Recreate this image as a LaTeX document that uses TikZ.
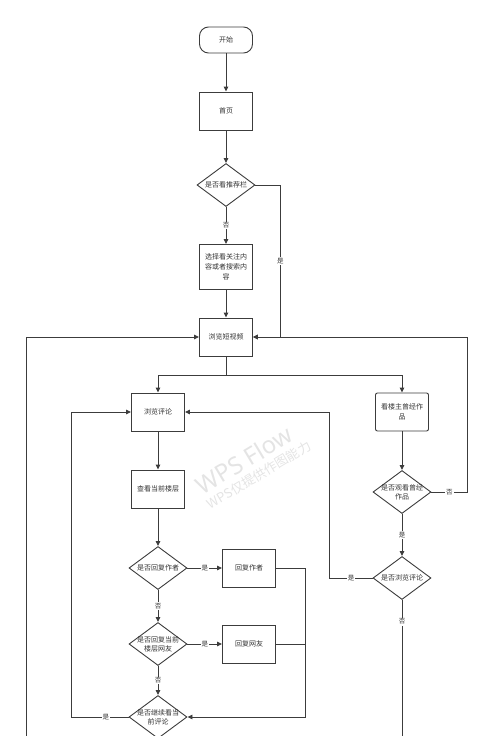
\documentclass[tikz,border=0pt]{standalone}
\usepackage{fontspec}
\newfontfamily\cjk{Noto Sans CJK SC}
\newfontfamily\wmfont{Noto Sans}
\usetikzlibrary{positioning,arrows.meta,shapes.geometric}
\definecolor{lineGray}{HTML}{3C3C3C}
\definecolor{textGray}{HTML}{333333}
\definecolor{markGray}{HTML}{E4E4E4}
\tikzset{
  box/.style={draw=lineGray,line width=0.9pt,align=center,inner sep=2pt,
    minimum width=53pt,minimum height=38pt,text=textGray,
    font=\cjk\fontsize{7}{10}\selectfont},
  term/.style={box,rounded corners=9pt,minimum height=26pt},
  dtext/.style={align=center,inner sep=0pt,text=textGray,
    font=\cjk\fontsize{7}{9}\selectfont},
  decide/.style={draw=lineGray,line width=0.9pt,diamond,inner sep=0pt,
    minimum width=58pt,minimum height=43pt,label={[dtext]center:#1}},
  arr/.style={-{Triangle[length=5pt,width=4.5pt]},draw=lineGray,line width=0.9pt},
  wire/.style={draw=lineGray,line width=0.9pt},
  lbl/.style={fill=white,inner sep=1pt,text=textGray,font=\cjk\fontsize{6.5}{7}\selectfont}
}
\begin{document}
\begin{tikzpicture}[x=1pt,y=-1pt]
\useasboundingbox (0,0) rectangle (500,736);
% watermark
\node[rotate=31,text=markGray,font=\wmfont\bfseries\fontsize{24}{24}\selectfont] (wm1) at (244,460) {WPS Flow};
\node[rotate=31,text=markGray,font=\cjk\fontsize{13}{13}\selectfont] (wm2) at (259,475) {WPS仅提供作图能力};
% main column
\node[term] (start) at (226,40) {开始};
\node[box] (home) at (226,111) {首页};
\node[decide={是否看推荐栏}] (dRec) at (226,185) {};
\node[box,minimum height=45pt] (follow) at (226,267) {选择看关注内\\容或者搜索内\\容};
\node[box] (video) at (226,337) {浏览短视频};
% left branch
\node[box] (comment) at (158,412) {浏览评论};
\node[box] (floor) at (158,489) {查看当前楼层};
\node[decide={是否回复作者}] (dAuth) at (158,568) {};
\node[box] (rAuth) at (249,568) {回复作者};
\node[decide={是否回复当前\\楼层网友}] (dFriend) at (158,644) {};
\node[box] (rFriend) at (249,644) {回复网友};
\node[decide={是否继续看当\\前评论}] (dMore) at (158,717) {};
% right branch
\node[box,rounded corners=2pt] (works) at (402,412) {看楼主曾经作\\品};
\node[decide={是否观看曾经\\作品}] (dWorks) at (402,492) {};
\node[decide={是否浏览评论}] (dBrowse) at (402,578) {};
\coordinate (outerIn) at (26,745);
\coordinate (browseOut) at (402,745);

\draw[arr] (start) -- (home);
\draw[arr] (home) -- (dRec);
\draw[arr] (dRec) -- node[lbl]{否} (follow);
\draw[arr] (dRec.east) -- ++(25,0) |- node[lbl,pos=0.25]{是} (video.east);
\draw[arr] (follow) -- (video);
\draw[arr] (outerIn) |- (video.west);

\draw[arr] (video.south) -- ++(0,19) -| (comment.north);
\draw[arr] (video.south) -- ++(0,19) -| (works.north);

\draw[arr] (comment) -- (floor);
\draw[arr] (floor) -- (dAuth);
\draw[arr] (dAuth) -- node[lbl]{是} (rAuth);
\draw[arr] (dAuth) -- node[lbl]{否} (dFriend);
\draw[arr] (dFriend) -- node[lbl]{是} (rFriend);
\draw[arr] (dFriend) -- node[lbl]{否} (dMore);
\draw[arr] (rAuth.east) -- ++(29,0) |- (dMore.east);
\draw[wire] (rFriend.east) -- ++(29,0);
\draw[arr] (dMore.west) -- node[lbl,pos=0.4]{是} ++(-57,0) |- (comment.west);

\draw[arr] (works) -- (dWorks);
\draw[arr] (dWorks.east) -- node[lbl]{否} ++(36,0) |- (video.east);
\draw[arr] (dWorks) -- node[lbl]{是} (dBrowse);
\draw[arr] (dBrowse.west) -- node[lbl]{是} ++(-43,0) |- (comment.east);
\draw[wire] (dBrowse.south) -- node[lbl,pos=0.15]{否} (browseOut);
\end{tikzpicture}
\end{document}
